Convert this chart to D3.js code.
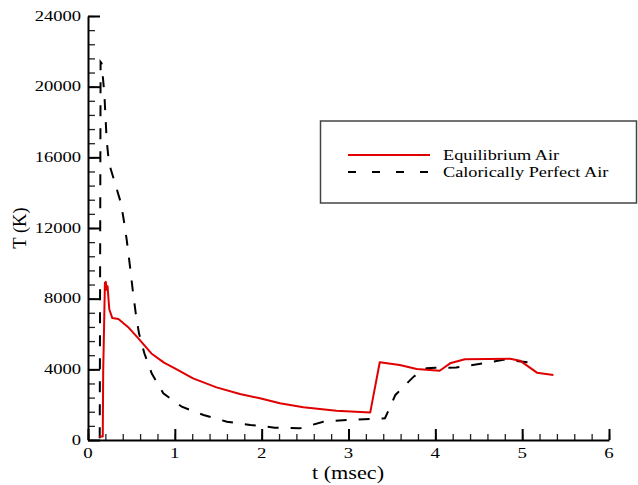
<!DOCTYPE html>
<html><head><meta charset="utf-8">
<script src="https://cdn.jsdelivr.net/npm/d3@7/dist/d3.min.js"></script>
<style>body{margin:0;background:#fff}svg{display:block}
text{font-family:"Liberation Serif","Times New Roman",serif;fill:#000}</style>
</head><body>
<svg id="chart" width="638" height="485"></svg>
<script>
// ---- data ----
const seriesNames = ["Equilibrium Air", "Calorically Perfect Air"];
const eqTime = [0.13, 0.17, 0.175, 0.195, 0.205, 0.215, 0.225, 0.245, 0.28, 0.35, 0.46, 0.58, 0.73, 0.875, 1.0, 1.21, 1.48, 1.75, 1.98, 2.21, 2.48, 2.86, 3.25, 3.36, 3.59, 3.785, 4.05, 4.17, 4.34, 4.86, 4.975, 5.17, 5.36];
const eqTemp = [200, 200, 3900, 8900, 8950, 8500, 8700, 7400, 6900, 6850, 6400, 5750, 4900, 4380, 4060, 3490, 2980, 2600, 2360, 2080, 1850, 1660, 1550, 4400, 4250, 4020, 3920, 4340, 4570, 4600, 4490, 3810, 3680];
const cpTime = [0.135, 0.145, 0.157, 0.188, 0.215, 0.242, 0.311, 0.38, 0.418, 0.446, 0.484, 0.515, 0.55, 0.587, 0.649, 0.733, 0.867, 1.08, 1.33, 1.60, 1.87, 2.15, 2.44, 2.71, 2.98, 3.25, 3.42, 3.54, 3.75, 3.9, 4.0, 4.24, 4.55, 4.82, 4.9, 5.07, 5.17];
const cpTemp = [100, 21400, 21320, 19620, 16980, 15660, 14530, 13400, 12270, 11320, 9810, 8490, 7170, 6040, 4910, 3775, 2640, 1885, 1415, 1036, 850, 700, 660, 1036, 1130, 1190, 1230, 2550, 3585, 4060, 4090, 4100, 4340, 4570, 4490, 4400, 4250];
const xTicks = [0, 1, 2, 3, 4, 5, 6];
const yTicks = [0, 4000, 8000, 12000, 16000, 20000, 24000];
const xTitle = "t (msec)";
const yTitle = "T (K)";

// ---- drawing ----
const svg = d3.select("#chart");
const x = d3.scaleLinear().domain([0, 6]).range([88, 609]);
const y = d3.scaleLinear().domain([0, 24000]).range([440, 16]);

const xMinor = d3.range(0, 6.0001, 0.2).map(v => +v.toFixed(1));
const yMinor = d3.range(0, 24001, 800);

// minor ticks
svg.append("g").attr("transform", "translate(0,440)")
  .call(d3.axisBottom(x).tickValues(xMinor).tickFormat("").tickSizeInner(-6).tickSizeOuter(0))
  .call(g => g.select(".domain").remove())
  .call(g => g.selectAll("line").attr("stroke", "#222").attr("stroke-width", 1.3));
svg.append("g").attr("transform", "translate(88,0)")
  .call(d3.axisLeft(y).tickValues(yMinor).tickFormat("").tickSizeInner(-7).tickSizeOuter(0))
  .call(g => g.select(".domain").remove())
  .call(g => g.selectAll("line").attr("stroke", "#222").attr("stroke-width", 1.3));
// major ticks + axis lines
svg.append("g").attr("transform", "translate(0,440)")
  .call(d3.axisBottom(x).tickValues(xTicks).tickFormat("").tickSizeInner(-11).tickSizeOuter(0))
  .call(g => g.select(".domain").attr("stroke", "#000").attr("stroke-width", 2))
  .call(g => g.selectAll("line").attr("stroke", "#000").attr("stroke-width", 2));
svg.append("g").attr("transform", "translate(88,0)")
  .call(d3.axisLeft(y).tickValues(yTicks).tickFormat("").tickSizeInner(-12).tickSizeOuter(0))
  .call(g => g.select(".domain").attr("stroke", "#000").attr("stroke-width", 2))
  .call(g => g.selectAll("line").attr("stroke", "#000").attr("stroke-width", 2));

// tick labels
svg.append("g").selectAll("text").data(xTicks).join("text")
  .attr("transform", d => `translate(${x(d)},458) scale(1.3,1)`)
  .attr("text-anchor", "middle").attr("font-size", 14.5).text(d => d);
svg.append("g").selectAll("text").data(yTicks).join("text")
  .attr("transform", d => `translate(81,${y(d) + 4.8}) scale(1.28,1)`)
  .attr("text-anchor", "end").attr("font-size", 14.5).text(d => d);

// axis titles
svg.append("text").attr("transform", "translate(348,479) scale(1.2,1)")
  .attr("text-anchor", "middle").attr("font-size", 18.5).text(xTitle);
svg.append("text").attr("transform", "translate(26,228) rotate(-90)")
  .attr("text-anchor", "middle").attr("font-size", 18.5).text(yTitle);

// lines
const line = d3.line().x(d => x(d[0])).y(d => y(d[1]));
const cpData = cpTime.map((t, i) => [t, cpTemp[i]]);
const eqData = eqTime.map((t, i) => [t, eqTemp[i]]);
svg.append("path").datum(cpData).attr("d", line)
  .attr("fill", "none").attr("stroke", "#000").attr("stroke-width", 2)
  .attr("stroke-dasharray", "11,12");
svg.append("path").datum(eqData).attr("d", line)
  .attr("fill", "none").attr("stroke", "#e00000").attr("stroke-width", 2)
  .attr("stroke-linejoin", "round");

// legend
const lg = svg.append("g");
lg.append("rect").attr("x", 320.5).attr("y", 121).attr("width", 316).attr("height", 82)
  .attr("fill", "#fff").attr("stroke", "#444").attr("stroke-width", 1.5);
const legColors = ["#e00000", "#000"];
const legDash = [null, "8,16"];
seriesNames.forEach((name, i) => {
  const ly = 155 + i * 17;
  lg.append("line").attr("x1", 348).attr("x2", 430).attr("y1", ly).attr("y2", ly)
    .attr("stroke", legColors[i]).attr("stroke-width", 2)
    .attr("stroke-dasharray", legDash[i]);
  lg.append("text").attr("transform", `translate(443,${ly + 5}) scale(1.26,1)`)
    .attr("font-size", 14.5).text(name);
});
</script>
</body></html>
